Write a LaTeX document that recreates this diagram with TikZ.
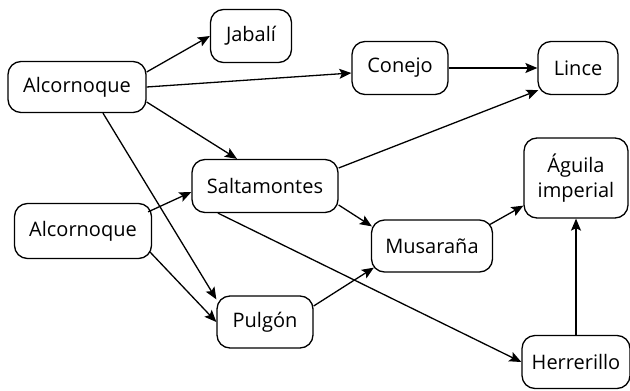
\documentclass[tikz,border=0pt]{standalone}
\usepackage{fontspec}
\setmainfont{Open Sans}
\usepackage{tikz}
\usetikzlibrary{arrows.meta}

\begin{document}
\begin{tikzpicture}[x=0.5pt,y=-0.5pt,
    especie/.style={draw,rounded corners=6.5pt,line width=0.65pt,inner sep=0pt,
        align=center,font=\fontsize{10}{12.5}\selectfont},
    flecha/.style={-{Stealth[length=6pt,width=5pt,inset=1.2pt]},line width=0.65pt}]
    \useasboundingbox (0,0) rectangle (630,390);

    \node[especie,minimum width=69pt,minimum height=25.5pt] (alcA) at (77,87) {Alcornoque};
    \node[especie,minimum width=40.5pt,minimum height=26.5pt] (jabali) at (251,36) {Jabalí};
    \node[especie,minimum width=48pt,minimum height=26.5pt] (conejo) at (400,68) {Conejo};
    \node[especie,minimum width=40pt,minimum height=26.5pt] (lince) at (578,68) {Lince};
    \node[especie,minimum width=52pt,minimum height=40pt] (aguila) at (576,178) {Águila\\imperial};
    \node[especie,minimum width=73pt,minimum height=26.5pt] (salt) at (265,186) {Saltamontes};
    \node[especie,minimum width=68.5pt,minimum height=27.5pt] (alcB) at (83,231) {Alcornoque};
    \node[especie,minimum width=48pt,minimum height=26pt] (pulgon) at (265,322) {Pulgón};
    \node[especie,minimum width=60.5pt,minimum height=26pt] (musar) at (432,246) {Musaraña};
    \node[especie,minimum width=54pt,minimum height=26.5pt] (herre) at (576,362) {Herrerillo};

    % red trofica
    \draw[flecha] ([yshift=7.5pt]alcA.east) -- (jabali.west);
    \draw[flecha] (alcA.east) -- ([yshift=-2.5pt]conejo.west);
    \draw[flecha] ([yshift=-7.5pt]alcA.east) -- ([xshift=-14pt]salt.north);
    \draw[flecha] ([xshift=13pt]alcA.south) -- ([yshift=-2pt]pulgon.north west);
    \draw[flecha] ([xshift=-2pt,yshift=-4.5pt]alcB.north east) -- ([yshift=-3pt]salt.west);
    \draw[flecha] ([xshift=-1pt,yshift=3.5pt]alcB.south east) -- (pulgon.west);
    \draw[flecha] (conejo.east) -- (lince.west);
    \draw[flecha] ([yshift=9pt]salt.east) -- ([xshift=0.5pt,yshift=2.5pt]lince.south west);
    \draw[flecha] ([yshift=-9.5pt]salt.east) -- ([xshift=0.5pt,yshift=-3.5pt]musar.north west);
    \draw[flecha] ([xshift=-23.5pt]salt.south) -- (herre.west);
    \draw[flecha] ([yshift=8pt]pulgon.east) -- ([xshift=1.5pt,yshift=2.5pt]musar.south west);
    \draw[flecha] ([xshift=-1.5pt,yshift=-2.5pt]musar.north east) -- ([yshift=6.5pt]aguila.south west);
    \draw[flecha] (herre.north) -- (aguila.south);
\end{tikzpicture}
\end{document}
